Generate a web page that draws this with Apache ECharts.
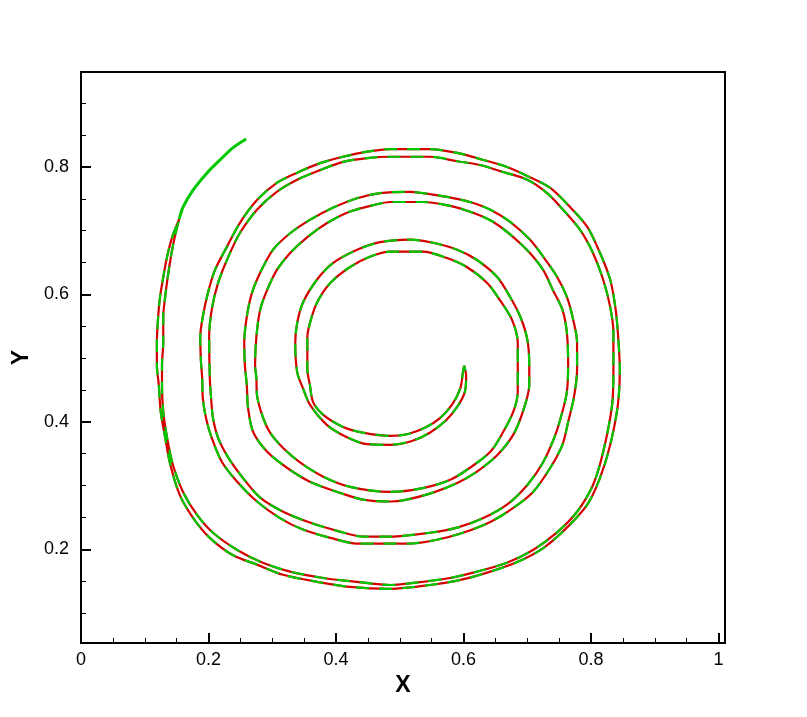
<!DOCTYPE html>
<html lang="en">

<head>
    <meta charset="UTF-8">
    <title>Spiral interface</title>
    <style>
        html, body { margin: 0; padding: 0; background: #fff; }
        #main { width: 807px; height: 717px; }
    </style>
    <script src="https://cdn.jsdelivr.net/npm/echarts@6/dist/echarts.min.js"></script>
</head>

<body>
    <div id="main"></div>

    <script>
        // inner edge of the filament, from the tip outward (x, y)
        const inX = [0.601, 0.599, 0.595, 0.582, 0.563, 0.540, 0.513, 0.485, 0.442, 0.411, 0.380, 0.364, 0.359, 0.355,
            0.355, 0.359, 0.370, 0.391, 0.422, 0.453, 0.485, 0.536, 0.574, 0.605, 0.637, 0.657, 0.676, 0.685,
            0.685, 0.685, 0.678, 0.662, 0.642, 0.610, 0.579, 0.536, 0.485,
            0.422, 0.380, 0.344, 0.317, 0.296, 0.284, 0.276, 0.275, 0.273, 0.275, 0.281, 0.292, 0.307, 0.328,
            0.355, 0.386, 0.422, 0.458, 0.485, 0.536, 0.579, 0.615, 0.646, 0.678, 0.704, 0.725, 0.740, 0.755,
            0.762, 0.764, 0.762, 0.755, 0.744, 0.725, 0.700, 0.668, 0.631, 0.590, 0.547, 0.485,
            0.442, 0.402, 0.359, 0.317, 0.281, 0.254, 0.231, 0.215, 0.207, 0.204, 0.202, 0.201, 0.205, 0.215,
            0.231, 0.249, 0.276, 0.307, 0.339, 0.375, 0.411, 0.449, 0.485, 0.547, 0.590, 0.626, 0.662, 0.700,
            0.731, 0.756, 0.783, 0.803, 0.819, 0.830, 0.835, 0.835, 0.833, 0.819, 0.803, 0.778, 0.747, 0.709,
            0.668, 0.621, 0.579, 0.536, 0.485,
            0.433, 0.380, 0.328, 0.285, 0.245, 0.207, 0.182, 0.160, 0.144, 0.135, 0.129, 0.127, 0.127, 0.129,
            0.129, 0.132, 0.136, 0.141, 0.147, 0.154];
        const inY = [0.488, 0.478, 0.453, 0.427, 0.406, 0.391, 0.381, 0.378, 0.383, 0.392, 0.411, 0.431, 0.458, 0.482,
            0.533, 0.555, 0.587, 0.618, 0.643, 0.659, 0.667, 0.667, 0.657, 0.643, 0.618, 0.591, 0.560, 0.524,
            0.482, 0.447, 0.416, 0.384, 0.353, 0.328, 0.309, 0.296, 0.290,
            0.298, 0.314, 0.336, 0.359, 0.384, 0.411, 0.442, 0.469, 0.489, 0.533, 0.576, 0.607, 0.638, 0.665,
            0.690, 0.712, 0.730, 0.740, 0.745, 0.745, 0.739, 0.728, 0.714, 0.690, 0.665, 0.638, 0.607, 0.576,
            0.540, 0.489, 0.447, 0.416, 0.380, 0.337, 0.301, 0.270, 0.249, 0.234, 0.226, 0.220,
            0.220, 0.229, 0.242, 0.259, 0.281, 0.312, 0.344, 0.375, 0.406, 0.438, 0.469, 0.533, 0.576, 0.618,
            0.659, 0.696, 0.733, 0.761, 0.780, 0.795, 0.808, 0.814, 0.816, 0.816, 0.809, 0.803, 0.792, 0.780,
            0.759, 0.733, 0.701, 0.665, 0.623, 0.580, 0.540, 0.482, 0.427, 0.353, 0.301, 0.259, 0.227, 0.199,
            0.179, 0.165, 0.155, 0.149, 0.144,
            0.149, 0.155, 0.165, 0.179, 0.199, 0.226, 0.254, 0.290, 0.333, 0.375, 0.416, 0.458, 0.489, 0.524,
            0.565, 0.596, 0.627, 0.659, 0.690, 0.718];

        // outer edge of the filament, from the tip outward
        const outX = [0.601, 0.604, 0.602, 0.591, 0.573, 0.547, 0.519, 0.485, 0.449, 0.417, 0.386, 0.359, 0.348, 0.339,
            0.336, 0.339, 0.348, 0.370, 0.395, 0.433, 0.469, 0.516, 0.552, 0.590, 0.621, 0.653, 0.673, 0.689,
            0.700, 0.703, 0.703, 0.693, 0.678, 0.653, 0.621, 0.590, 0.552, 0.511, 0.485,
            0.442, 0.402, 0.359, 0.323, 0.292, 0.270, 0.262, 0.260, 0.257, 0.256, 0.260, 0.268, 0.281, 0.301,
            0.328, 0.359, 0.395, 0.433, 0.469, 0.516, 0.536, 0.574, 0.610, 0.642, 0.673, 0.704, 0.725, 0.747,
            0.762, 0.772, 0.778, 0.778, 0.773, 0.764, 0.755, 0.736, 0.709, 0.678, 0.642, 0.599, 0.558, 0.516, 0.485,
            0.433, 0.391, 0.348, 0.312, 0.276, 0.245, 0.221, 0.205, 0.196, 0.191, 0.190, 0.188, 0.187, 0.191,
            0.199, 0.210, 0.229, 0.249, 0.276, 0.307, 0.339, 0.375, 0.411, 0.449, 0.485, 0.547, 0.590, 0.631,
            0.668, 0.704, 0.736, 0.767, 0.794, 0.814, 0.830, 0.838, 0.842, 0.845, 0.842, 0.830, 0.814, 0.794,
            0.762, 0.725, 0.684, 0.642, 0.595, 0.547, 0.485,
            0.422, 0.370, 0.317, 0.276, 0.238, 0.202, 0.176, 0.155, 0.140, 0.132, 0.125, 0.122, 0.119, 0.119,
            0.121, 0.124, 0.129, 0.135, 0.143, 0.154];
        const outY = [0.488, 0.472, 0.447, 0.425, 0.403, 0.383, 0.370, 0.364, 0.365, 0.376, 0.395, 0.427, 0.453, 0.478,
            0.524, 0.555, 0.587, 0.623, 0.649, 0.670, 0.682, 0.686, 0.681, 0.670, 0.654, 0.627, 0.596, 0.565,
            0.529, 0.489, 0.458, 0.416, 0.380, 0.348, 0.322, 0.304, 0.289, 0.278, 0.275,
            0.278, 0.290, 0.306, 0.328, 0.353, 0.384, 0.422, 0.458, 0.489, 0.524, 0.565, 0.602, 0.634, 0.670,
            0.696, 0.717, 0.736, 0.751, 0.759, 0.761, 0.759, 0.753, 0.745, 0.733, 0.714, 0.686, 0.659, 0.627,
            0.596, 0.560, 0.524, 0.482, 0.438, 0.400, 0.364, 0.328, 0.290, 0.265, 0.243, 0.226, 0.215, 0.209, 0.209,
            0.209, 0.218, 0.231, 0.249, 0.275, 0.306, 0.337, 0.375, 0.406, 0.438, 0.469, 0.497, 0.533, 0.565,
            0.602, 0.638, 0.675, 0.712, 0.748, 0.775, 0.791, 0.806, 0.816, 0.824, 0.828, 0.828, 0.822, 0.811,
            0.800, 0.784, 0.767, 0.737, 0.706, 0.665, 0.623, 0.580, 0.540, 0.482, 0.427, 0.364, 0.312, 0.270,
            0.234, 0.202, 0.180, 0.165, 0.152, 0.144, 0.138,
            0.141, 0.149, 0.160, 0.176, 0.191, 0.218, 0.249, 0.285, 0.333, 0.375, 0.416, 0.458, 0.489, 0.524,
            0.565, 0.596, 0.627, 0.659, 0.690, 0.718];

        // green tail beyond where the red one stops
        const tailX = [0.154, 0.160, 0.176, 0.198, 0.218, 0.238, 0.259];
        const tailY = [0.718, 0.737, 0.764, 0.791, 0.811, 0.830, 0.844];

        // axis ticks
        const xMajor = [0, 0.2, 0.4, 0.6, 0.8, 1];
        const xMinor = [0.05, 0.1, 0.15, 0.25, 0.3, 0.35, 0.45, 0.5, 0.55, 0.65, 0.7, 0.75, 0.85, 0.9, 0.95];
        const yMajor = [0.2, 0.4, 0.6, 0.8];
        const yMinor = [0.1, 0.15, 0.25, 0.3, 0.35, 0.45, 0.5, 0.55, 0.65, 0.7, 0.75, 0.85, 0.9];

        const zip = (xs, ys) => xs.map((v, i) => [v, ys[i]]);
        // closed contour: inner edge out to the tail, then outer edge back
        const contour = zip(inX, inY).concat(zip(outX, outY).reverse());
        const tail = zip(tailX, tailY);

        const font = '"Liberation Sans", Arial, sans-serif';
        const baseX = { type: 'value', min: 0, max: 1.01, splitLine: { show: false } };
        const baseY = { type: 'value', min: 0.053, max: 0.949, splitLine: { show: false } };

        const chart = echarts.init(document.getElementById('main'));
        chart.setOption({
            animation: false,
            backgroundColor: '#fff',
            grid: { left: 81, top: 72, right: 82, bottom: 74, show: true, borderColor: '#000', borderWidth: 2 },
            xAxis: [
                Object.assign({}, baseX, {
                    name: 'X', nameLocation: 'middle', nameGap: 28,
                    nameTextStyle: { fontFamily: font, fontSize: 23, fontWeight: 'bold', color: '#000' },
                    axisLine: { lineStyle: { color: '#000', width: 2 } },
                    axisTick: { inside: true, length: 10, lineStyle: { width: 2, color: '#000' }, customValues: xMajor },
                    axisLabel: { customValues: xMajor, margin: 8, fontFamily: font, fontSize: 18, color: '#000' }
                }),
                Object.assign({}, baseX, {
                    position: 'bottom',
                    axisLine: { show: false },
                    axisTick: { inside: true, length: 5, lineStyle: { width: 1, color: '#000' }, customValues: xMinor },
                    axisLabel: { show: false }
                })
            ],
            yAxis: [
                Object.assign({}, baseY, {
                    name: 'Y', nameLocation: 'middle', nameGap: 46,
                    nameTextStyle: { fontFamily: font, fontSize: 23, fontWeight: 'bold', color: '#000' },
                    axisLine: { lineStyle: { color: '#000', width: 2 } },
                    axisTick: { inside: true, length: 10, lineStyle: { width: 2, color: '#000' }, customValues: yMajor },
                    axisLabel: { customValues: yMajor, margin: 12, fontFamily: font, fontSize: 18, color: '#000' }
                }),
                Object.assign({}, baseY, {
                    position: 'left',
                    axisLine: { show: false },
                    axisTick: { inside: true, length: 5, lineStyle: { width: 1, color: '#000' }, customValues: yMinor },
                    axisLabel: { show: false }
                })
            ],
            series: [
                {
                    type: 'line', name: 'red', data: contour, showSymbol: false, smooth: 0.3,
                    lineStyle: { color: '#d40000', width: 2.2 }
                },
                {
                    type: 'line', name: 'green', data: contour, showSymbol: false, smooth: 0.3,
                    lineStyle: { color: '#00c800', width: 2.2, type: [13, 10] }
                },
                {
                    type: 'line', name: 'green tail', data: tail, showSymbol: false, smooth: 0.3,
                    lineStyle: { color: '#00c800', width: 3 }
                }
            ]
        });
    </script>
</body>

</html>
